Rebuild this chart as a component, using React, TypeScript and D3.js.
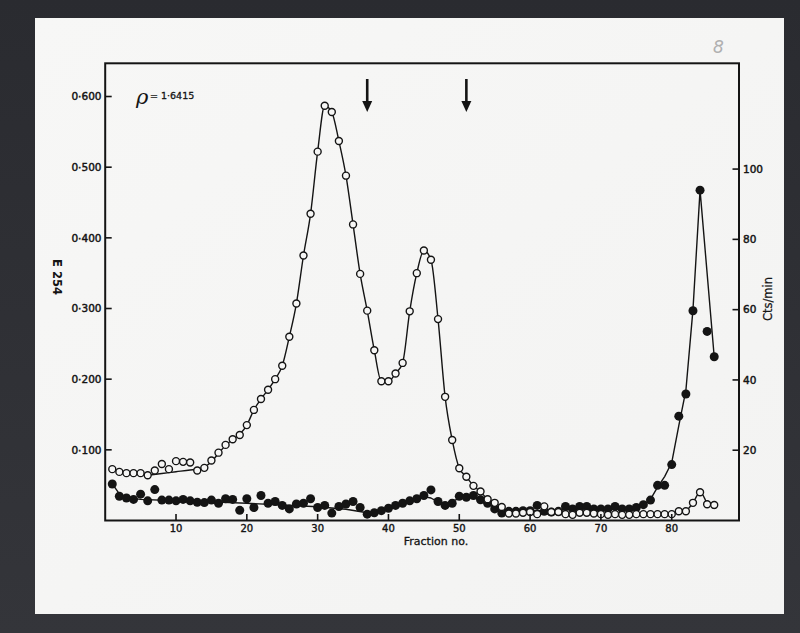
import React from "react";
import * as d3 from "d3";

// ---- Data ----
const fractions: number[] = d3.range(1, 87);

// E254 (open circles, left axis)
const openE254: number[] = [
  0.0727, 0.0688, 0.067, 0.067, 0.067, 0.064, 0.0707, 0.080, 0.0727, 0.084,
  0.083, 0.082, 0.0707, 0.0745, 0.085, 0.096, 0.107, 0.115, 0.121, 0.135,
  0.1565, 0.172, 0.185, 0.200, 0.219, 0.260, 0.307, 0.375, 0.434, 0.522,
  0.587, 0.578, 0.537, 0.488, 0.419, 0.349, 0.297, 0.241, 0.197, 0.197,
  0.208, 0.223, 0.296, 0.350, 0.382, 0.369, 0.285, 0.175, 0.114, 0.074,
  0.062, 0.049, 0.041, 0.030, 0.025, 0.019, 0.010, 0.010, 0.011, 0.012,
  0.009, 0.020, 0.012, 0.012, 0.009, 0.008, 0.011, 0.011, 0.010, 0.009,
  0.008, 0.009, 0.008, 0.008, 0.009, 0.009, 0.009, 0.009, 0.009, 0.009,
  0.013, 0.013, 0.025, 0.040, 0.023, 0.022,
];

// Counts per minute (filled circles, right axis)
const filledCts: number[] = [
  10.4, 6.9, 6.4, 6.0, 7.5, 5.6, 8.8, 5.8, 5.8, 5.6,
  6.0, 5.6, 5.2, 5.1, 5.8, 4.9, 6.2, 6.0, 2.9, 6.2,
  3.7, 7.1, 4.9, 5.4, 4.3, 3.3, 4.7, 4.9, 6.2, 3.7,
  4.3, 2.1, 4.0, 4.7, 5.4, 3.7, 1.8, 2.2, 2.8, 3.5,
  4.3, 4.9, 5.6, 6.2, 7.1, 8.7, 5.4, 4.3, 4.9, 6.9,
  6.6, 7.1, 5.9, 4.9, 3.3, 2.1, 2.6, 2.6, 2.8, 2.8,
  4.3, 2.6, 2.4, 2.6, 4.0, 3.3, 4.0, 4.0, 3.3, 3.3,
  3.3, 4.0, 3.3, 3.3, 3.7, 4.5, 5.8, 10, 10, 15.9,
  29.7, 36, 59.7, 94, 53.8, 46.6,
];

// Hand-drawn fitted curves
const openFitFractions: number[] = [
  6, 8, 10, 12, 13, 14, 15, 16, 17, 18, 19, 20, 21, 22, 23, 24, 25, 26, 27, 28,
  29, 30, 31, 32, 33, 34, 35, 36, 37, 38, 39, 40, 41, 42, 43, 44, 45, 46, 47, 48,
  49, 50, 51, 52, 53, 54, 55, 56, 57, 58, 60, 65, 70, 75, 80, 81, 82, 83, 84, 85,
];
const openFitE254: number[] = [
  0.064, 0.0665, 0.069, 0.0715, 0.0725, 0.0755, 0.083, 0.095, 0.106, 0.115, 0.122, 0.135,
  0.1565, 0.172, 0.185, 0.200, 0.219, 0.260, 0.307, 0.375, 0.434, 0.522, 0.587, 0.578,
  0.537, 0.488, 0.419, 0.349, 0.297, 0.241, 0.197, 0.197, 0.208, 0.223, 0.296, 0.350,
  0.382, 0.369, 0.285, 0.175, 0.114, 0.074, 0.062, 0.049, 0.041, 0.030, 0.025, 0.019,
  0.013, 0.011, 0.010, 0.009, 0.009, 0.009, 0.010, 0.012, 0.014, 0.025, 0.040, 0.023,
];
const filledFitFractions: number[] = [
  1, 2, 3, 5, 10, 15, 20, 25, 30, 34, 37, 38, 40, 42, 44, 45, 46, 47, 48, 50,
  52, 54, 55, 56, 60, 65, 70, 74, 76, 77, 78, 79, 80, 81, 82, 83, 84, 86,
];
const filledFitCts: number[] = [
  10.4, 7.6, 6.5, 6.0, 5.6, 5.3, 4.9, 4.4, 3.9, 3.2, 2.2, 2.2, 3.2, 4.6, 6.0, 6.8, 6.4, 5.2, 4.8, 6.2,
  6.6, 4.9, 3.6, 2.6, 2.7, 3.1, 3.3, 3.5, 4.4, 6.0, 9.5, 12.5, 16.5, 27, 37, 60, 94, 46.6,
];

const xTicks: number[] = [10, 20, 30, 40, 50, 60, 70, 80];
const xTickLabels: string[] = ["10", "20", "30", "40", "50", "60", "70", "80"];
const eTicks: number[] = [0.1, 0.2, 0.3, 0.4, 0.5, 0.6];
const eTickLabels: string[] = ["0·100", "0·200", "0·300", "0·400", "0·500", "0·600"];
const cTicks: number[] = [20, 40, 60, 80, 100];
const cTickLabels: string[] = ["20", "40", "60", "80", "100"];
const arrowFractions: number[] = [37, 51];

// ---- Layout ----
const W = 800;
const H = 633;
const L = 105.2, R = 739, T = 63.3, B = 520.5;
const INK = "#141414";
const FONT = "'DejaVu Sans', sans-serif";

export default function App() {
  const x = d3.scaleLinear().domain([0, 89.5]).range([L, R]);
  const yE = d3.scaleLinear().domain([0, 0.647]).range([B, T]);
  const yC = d3.scaleLinear().domain([0, 130.1]).range([B, T]);

  const openLine = d3
    .line<number>()
    .x((_, i) => x(openFitFractions[i]))
    .y((d) => yE(d))
    .curve(d3.curveMonotoneX)(openFitE254) as string;

  const filledLine = d3
    .line<number>()
    .x((_, i) => x(filledFitFractions[i]))
    .y((d) => yC(d))
    .curve(d3.curveLinear)(filledFitCts) as string;

  const tick = 6.5;

  return (
    <svg
      width={W}
      height={H}
      viewBox={`0 0 ${W} ${H}`}
      style={{ position: "absolute", left: 0, top: 0 }}
    >
      <defs>
        <linearGradient id="bg" x1="0" y1="0" x2="0" y2="1">
          <stop offset="0" stopColor="#2a2b30" />
          <stop offset="1" stopColor="#34353a" />
        </linearGradient>
        <linearGradient id="paper" x1="0" y1="0" x2="1" y2="1">
          <stop offset="0" stopColor="#f7f7f6" />
          <stop offset="1" stopColor="#f3f3f2" />
        </linearGradient>
      </defs>
      <rect x={0} y={0} width={W} height={H} fill="url(#bg)" />
      <rect x={35} y={18} width={749} height={596} fill="url(#paper)" />

      {/* handwritten page number */}
      <text x={713} y={53} fontFamily="'DejaVu Sans', sans-serif" fontSize={17} fontStyle="italic" fill="#b0b0b0" fontWeight={300}>
        8
      </text>

      {/* fitted curves */}
      <path d={filledLine} fill="none" stroke={INK} strokeWidth={1.4} strokeLinejoin="round" />
      <path d={openLine} fill="none" stroke={INK} strokeWidth={1.4} />

      {/* filled circles (cts/min) */}
      {filledCts.map((c, i) => (
        <circle key={`f${i}`} cx={x(fractions[i])} cy={yC(c)} r={4.5} fill={INK} />
      ))}

      {/* open circles (E254) */}
      {openE254.map((v, i) => (
        <circle
          key={`o${i}`}
          cx={x(fractions[i])}
          cy={yE(v)}
          r={3.5}
          fill="#f6f6f5"
          stroke={INK}
          strokeWidth={1.4}
        />
      ))}

      {/* frame */}
      <rect x={L} y={T} width={R - L} height={B - T} fill="none" stroke={INK} strokeWidth={2} />

      {/* x ticks */}
      {xTicks.map((t, i) => (
        <g key={`xt${i}`}>
          <line x1={x(t)} x2={x(t)} y1={B} y2={B - tick} stroke={INK} strokeWidth={1.6} />
          <text
            x={x(t)}
            y={532}
            textAnchor="middle"
            fontFamily={FONT}
            fontSize={10}
            fill={INK}
            stroke={INK}
            strokeWidth={0.4}
          >
            {xTickLabels[i]}
          </text>
        </g>
      ))}
      <text x={436} y={545} textAnchor="middle" fontFamily={FONT} fontSize={11} fill={INK} stroke={INK} strokeWidth={0.3}>
        Fraction no.
      </text>

      {/* left ticks */}
      {eTicks.map((t, i) => (
        <g key={`et${i}`}>
          <line x1={L} x2={L + tick} y1={yE(t)} y2={yE(t)} stroke={INK} strokeWidth={1.6} />
          <text
            x={101.5}
            y={yE(t) + 3.8}
            textAnchor="end"
            fontFamily={FONT}
            fontSize={10.5}
            fill={INK}
            stroke={INK}
            strokeWidth={0.45}
          >
            {eTickLabels[i]}
          </text>
        </g>
      ))}
      <text
        transform={`translate(53,277) rotate(90)`}
        textAnchor="middle"
        fontFamily={FONT}
        fontSize={11.5}
        fontWeight="bold"
        fill={INK}
      >
        E 254
      </text>

      {/* right ticks */}
      {cTicks.map((t, i) => (
        <g key={`ct${i}`}>
          <line x1={R - tick} x2={R} y1={yC(t)} y2={yC(t)} stroke={INK} strokeWidth={1.6} />
          <text
            x={743}
            y={yC(t) + 3.8}
            textAnchor="start"
            fontFamily={FONT}
            fontSize={10.5}
            fill={INK}
            stroke={INK}
            strokeWidth={0.45}
          >
            {cTickLabels[i]}
          </text>
        </g>
      ))}
      <text
        transform={`translate(772,299) rotate(-90)`}
        textAnchor="middle"
        fontFamily={FONT}
        fontSize={11.5}
        fill={INK}
        stroke={INK}
        strokeWidth={0.25}
      >
        Cts/min
      </text>

      {/* density annotation */}
      <text x={136} y={104} fontFamily="'DejaVu Serif', serif" fontStyle="italic" fontSize={21} fill={INK}>
        ρ
      </text>
      <text x={150} y={99} fontFamily={FONT} fontSize={9.5} fill={INK} stroke={INK} strokeWidth={0.3}>
        = 1·6415
      </text>

      {/* arrows */}
      {arrowFractions.map((f, i) => {
        const ax = x(f);
        return (
          <g key={`ar${i}`}>
            <line x1={ax} x2={ax} y1={79} y2={104} stroke={INK} strokeWidth={2.6} />
            <path d={`M${ax - 5},${101} L${ax + 5},${101} L${ax},${112} Z`} fill={INK} />
          </g>
        );
      })}
    </svg>
  );
}
